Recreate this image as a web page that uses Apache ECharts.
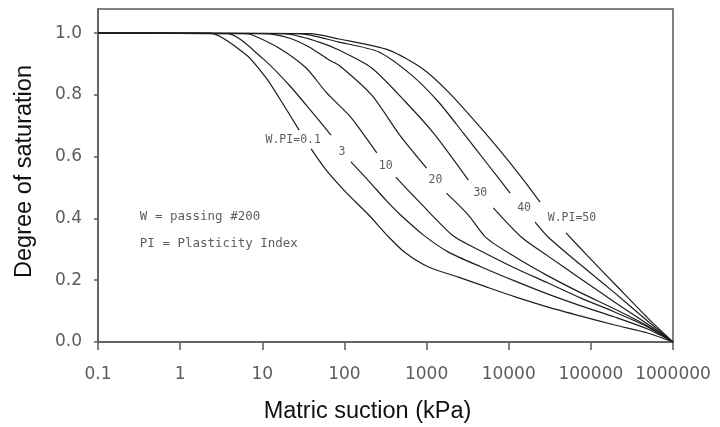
<!DOCTYPE html>
<html>
<head>
<meta charset="utf-8">
<script src="https://cdn.jsdelivr.net/npm/echarts@6/dist/echarts.min.js"></script>
<style>html,body{margin:0;padding:0;background:#fff;}#c{width:720px;height:427px;}</style>
</head>
<body>
<div id="c"></div>
<script>
// ---- data (matric suction in kPa, degree of saturation) ----
const curveNames = ['W.PI=0.1', '3', '10', '20', '30', '40', 'W.PI=50'];

const suction01 = [0.1, 2.28, 6.4, 11.2, 16.1, 28.1, 33.2, 39.3, 59.7, 104, 198, 346, 556, 1057, 2443, 4645, 12000, 30100, 75700, 195000, 491000, 1000000];
const sat01     = [1.0, 1.0, 0.929, 0.854, 0.790, 0.686, null, 0.625, 0.557, 0.485, 0.411, 0.340, 0.288, 0.243, 0.210, 0.184, 0.146, 0.113, 0.084, 0.055, 0.029, 0];

const suction3 = [0.1, 3.77, 10, 21.2, 40.4, 68.6, 90.7, 120, 198, 318, 458, 920, 1848, 4645, 12000, 30100, 75700, 195000, 491000, 1000000];
const sat3     = [1.0, 0.998, 0.919, 0.832, 0.744, 0.670, null, 0.583, 0.521, 0.460, 0.417, 0.346, 0.291, 0.243, 0.197, 0.155, 0.117, 0.081, 0.042, 0];

const suction10 = [0.1, 6.05, 7.56, 16.1, 34.2, 59.7, 113, 150, 248, 327, 421, 800, 2125, 4645, 12000, 30100, 75700, 195000, 491000, 1000000];
const sat10     = [1.0, 0.998, 0.994, 0.951, 0.887, 0.809, 0.735, 0.693, 0.612, null, 0.534, 0.456, 0.343, 0.294, 0.239, 0.191, 0.142, 0.097, 0.049, 0];

const suction20 = [0.1, 10.6, 21.2, 37.1, 64.9, 85.8, 215, 471, 1000, 1322, 1747, 3228, 5340, 12000, 30100, 75700, 195000, 491000, 1000000];
const sat20     = [1.0, 0.998, 0.984, 0.955, 0.913, 0.896, 0.799, 0.670, 0.563, null, 0.482, 0.411, 0.337, 0.275, 0.214, 0.159, 0.107, 0.052, 0];

const suction30 = [0.1, 18.5, 49.1, 85.8, 215, 556, 1216, 3228, 4515, 6490, 14190, 30100, 75700, 195000, 491000, 1000000];
const sat30     = [1.0, 0.998, 0.971, 0.945, 0.887, 0.777, 0.676, 0.524, null, 0.434, 0.340, 0.278, 0.204, 0.129, 0.058, 0];

const suction40 = [0.1, 28.1, 85.8, 262, 658, 1397, 2808, 5645, 10400, 15000, 20950, 30100, 75700, 195000, 491000, 1000000];
const sat40     = [1.0, 0.998, 0.971, 0.939, 0.864, 0.777, 0.676, 0.573, 0.482, null, 0.388, 0.340, 0.249, 0.159, 0.068, 0];

const suction50 = [0.1, 37.1, 85.8, 346, 869, 1848, 5190, 13030, 24100, 34600, 49800, 92000, 212000, 491000, 1000000];
const sat50     = [1.0, 0.998, 0.981, 0.945, 0.887, 0.809, 0.676, 0.547, 0.453, null, 0.353, 0.278, 0.178, 0.078, 0];

// curve label positions (suction kPa, saturation)
const labelSuction = [23.8, 93.3, 318, 1285, 4515, 15400, 58900];
const labelSat     = [0.654, 0.615, 0.570, 0.524, 0.482, 0.434, 0.401];

const noteText    = ['W = passing #200', 'PI = Plasticity Index'];
const noteSuction = [0.323, 0.323];
const noteSat     = [0.405, 0.317];

const xTickLabels = ['0.1', '1', '10', '100', '1000', '10000', '100000', '1000000'];
const yTickLabels = ['0.0', '0.2', '0.4', '0.6', '0.8', '1.0'];

const xTitle = 'Matric suction (kPa)';
const yTitle = 'Degree of saturation';

// ---- build ----
const suctions = [suction01, suction3, suction10, suction20, suction30, suction40, suction50];
const sats = [sat01, sat3, sat10, sat20, sat30, sat40, sat50];

function pairs(xs, ys) {
  return xs.map((x, i) => [x, ys[i] === null ? '-' : ys[i]]);
}

const series = suctions.map((xs, i) => ({
  name: curveNames[i],
  type: 'line',
  data: pairs(xs, sats[i]),
  showSymbol: false,
  symbol: 'none',
  smooth: 0.25,
  connectNulls: false,
  lineStyle: { color: '#1e1e1e', width: 1.2 },
  silent: true,
  z: 3
}));

series.push({
  type: 'scatter',
  symbolSize: 0,
  silent: true,
  data: labelSuction.map((x, i) => ({ value: [x, labelSat[i]], name: curveNames[i] })),
  label: {
    show: true,
    position: 'inside',
    formatter: p => p.name,
    fontFamily: 'DejaVu Sans Mono',
    fontSize: 11.5,
    color: '#333333'
  },
  z: 5
});

series.push({
  type: 'scatter',
  symbolSize: 0,
  silent: true,
  data: noteSuction.map((x, i) => ({ value: [x, noteSat[i]], name: noteText[i] })),
  label: {
    show: true,
    position: 'inside',
    align: 'left',
    formatter: p => p.name,
    fontFamily: 'DejaVu Sans Mono',
    fontSize: 12.5,
    color: '#333333'
  },
  z: 5
});

const chart = echarts.init(document.getElementById('c'), null, { renderer: 'canvas' });
chart.setOption({
  animation: false,
  backgroundColor: '#ffffff',
  grid: {
    left: 98, right: 47, top: 9, bottom: 85,
    show: true, borderColor: '#5a5a5a', borderWidth: 1.5, backgroundColor: 'transparent'
  },
  xAxis: {
    type: 'log',
    logBase: 10,
    min: 0.1,
    max: 1000000,
    axisLine: { show: true, lineStyle: { color: '#5a5a5a', width: 1.5 } },
    axisTick: { show: true, length: 8, inside: false, lineStyle: { color: '#5a5a5a', width: 1.5 } },
    minorTick: { show: false },
    splitLine: { show: false },
    axisLabel: {
      margin: 24,
      fontFamily: 'DejaVu Sans',
      fontSize: 17,
      color: '#5c5c5c',
      formatter: v => {
        const k = Math.round(Math.log10(v)) + 1;
        return xTickLabels[k] !== undefined ? xTickLabels[k] : '';
      }
    }
  },
  yAxis: {
    type: 'value',
    min: 0,
    max: 1.078,
    interval: 0.2,
    axisLine: { show: true, lineStyle: { color: '#5a5a5a', width: 1.5 } },
    axisTick: { show: true, length: 4, inside: false, lineStyle: { color: '#5a5a5a', width: 1.5 } },
    splitLine: { show: false },
    axisLabel: {
      margin: 16,
      fontFamily: 'DejaVu Sans',
      fontSize: 17,
      color: '#5c5c5c',
      showMaxLabel: false,
      formatter: v => {
        const k = Math.round(v / 0.2);
        if (Math.abs(v - k * 0.2) > 1e-6) return '';
        return yTickLabels[k] !== undefined ? yTickLabels[k] : '';
      }
    }
  },
  graphic: [
    {
      type: 'text',
      x: 367.5, y: 412,
      style: {
        text: xTitle, fontFamily: 'Liberation Sans, Arial', fontSize: 23.5,
        fill: '#111', align: 'center', verticalAlign: 'middle'
      }
    },
    {
      type: 'text',
      x: 25, y: 171.5,
      rotation: Math.PI / 2,
      style: {
        text: yTitle, fontFamily: 'Liberation Sans, Arial', fontSize: 23.5,
        fill: '#111', align: 'center', verticalAlign: 'middle'
      }
    }
  ],
  series: series
});
</script>
</body>
</html>
